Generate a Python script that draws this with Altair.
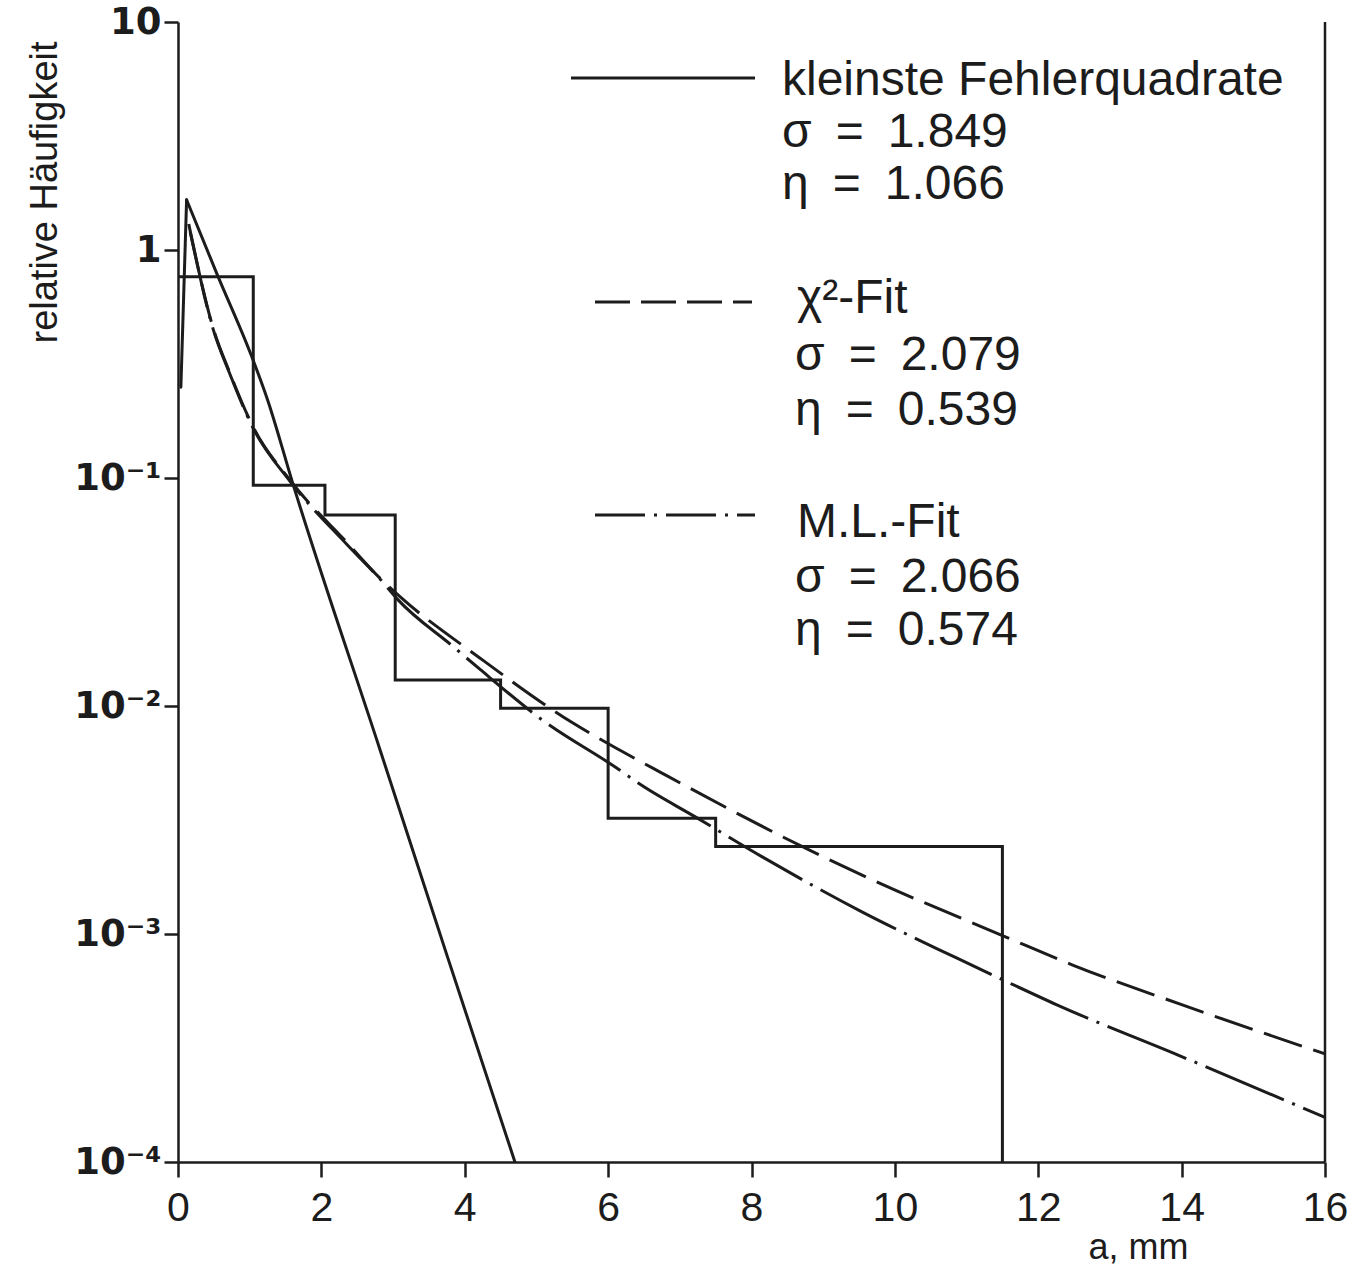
import altair as alt
import pandas as pd

# ---------------- data ----------------
hist_edges = [0.0, 1.05, 2.05, 3.03, 4.5, 6.0, 7.5, 11.5]
hist_values = [0.764, 0.093, 0.0689, 0.0130, 0.00977, 0.00322, 0.00242, 0.0001]

lsq_x = [0.04, 0.12, 0.54, 1.03, 1.25, 1.6, 2.82, 3.75, 4.70]
lsq_y = [0.25, 1.66, 0.79, 0.34, 0.22, 0.095, 0.0064, 0.00081, 0.0001]
lsq_peak_index = 1  # the curve rises steeply up to this point, then falls

chi_x = [0.17, 0.21, 0.49, 0.725, 1.05, 1.56, 2.36, 2.82, 3.10, 4.21, 5.51, 6.16,
         6.75, 8.86, 9.69, 11.55, 12.48, 14.0, 16.0]
chi_y = [1.2, 1.05, 0.455, 0.288, 0.167, 0.098, 0.052, 0.0363, 0.0301, 0.01625, 0.00842,
         0.00641, 0.00508, 0.00229, 0.001726, 0.00097, 0.000731, 0.00049, 0.000298]

ml_x = [0.15, 0.49, 0.725, 1.05, 1.56, 2.36, 2.82, 3.07, 3.84, 4.21, 5.08, 6.16, 6.42,
        7.24, 8.15, 9.54, 10.86, 11.55, 12.26, 14.0, 16.0]
ml_y = [1.3, 0.45, 0.285, 0.165, 0.097, 0.051, 0.036, 0.0292, 0.0182, 0.0145, 0.00869,
        0.00524, 0.00459, 0.00323, 0.00218, 0.00125, 0.000785, 0.00062, 0.000489,
        0.00029, 0.000157]

x_tick_values = [0, 2, 4, 6, 8, 10, 12, 14, 16]
y_tick_values = [1e-4, 1e-3, 1e-2, 1e-1, 1, 10]
y_tick_labels = ["10⁻⁴", "10⁻³", "10⁻²", "10⁻¹", "1", "10"]

legend_lsq = ["kleinste Fehlerquadrate", "σ\u2002=\u20021.849", "η\u2002=\u20021.066"]
legend_chi = ["χ²-Fit", "σ\u2002=\u20022.079", "η\u2002=\u20020.539"]
legend_ml = ["M.L.-Fit", "σ\u2002=\u20022.066", "η\u2002=\u20020.574"]

# ---------------- chart ----------------
W, H = 1147, 1140
INK = "#1c1c1c"
TXT_FONT = "Liberation Sans, Arial, sans-serif"
NARROW = "'Liberation Sans Narrow', 'Liberation Sans', sans-serif"

# label expression for y ticks built from the lists
expr = "'" + y_tick_labels[-1] + "'"
for v, lab in reversed(list(zip(y_tick_values[:-1], y_tick_labels[:-1]))):
    expr = f"datum.value < {v * 3} ? '{lab}' : " + expr

xs = alt.Scale(domain=[0, 16], nice=False, zero=False)
ys = alt.Scale(type="log", domain=[1e-4, 10], nice=False)

x_axis = alt.Axis(values=x_tick_values, format="d", grid=False,
                  labelFont=NARROW, labelFontSize=41, labelColor=INK,
                  labelPadding=11, labelFlush=False, labelOverlap=False,
                  tickSize=15, tickWidth=2.5, tickColor=INK,
                  domainWidth=2.5, domainColor=INK,
                  title="a, mm", titleFont=NARROW, titleFontSize=36,
                  titleFontWeight="normal", titleColor=INK,
                  titleX=960, titleY=96, titleAlign="center",
                  titleBaseline="alphabetic")

y_axis = alt.Axis(values=y_tick_values, labelExpr=expr, grid=False,
                  labelFont="DejaVu Sans", labelFontWeight="bold",
                  labelFontSize=37, labelColor=INK, labelPadding=3,
                  labelBaseline="middle", labelFlush=False, labelOverlap=False,
                  tickSize=14, tickWidth=2.5, tickColor=INK,
                  domainWidth=2.5, domainColor=INK,
                  title="relative Häufigkeit", titleFont=TXT_FONT,
                  titleFontSize=38, titleFontWeight="normal", titleColor=INK,
                  titleX=-133, titleY=170, titleAngle=270,
                  titleAlign="center", titleBaseline="middle")

hist_df = pd.DataFrame({"x": hist_edges, "y": hist_values})
lsq_rise_df = pd.DataFrame({"x": lsq_x[:lsq_peak_index + 1],
                            "y": lsq_y[:lsq_peak_index + 1]})
lsq_fall_df = pd.DataFrame({"x": lsq_x[lsq_peak_index:],
                            "y": lsq_y[lsq_peak_index:]})
chi_df = pd.DataFrame({"x": chi_x, "y": chi_y})
ml_df = pd.DataFrame({"x": ml_x, "y": ml_y})

hist = alt.Chart(hist_df).mark_line(
    interpolate="step-after", color=INK, strokeWidth=3, clip=True
).encode(x=alt.X("x:Q", scale=xs, axis=x_axis),
         y=alt.Y("y:Q", scale=ys, axis=y_axis))

lsq_rise = alt.Chart(lsq_rise_df).mark_line(
    interpolate="linear", color=INK, strokeWidth=3, clip=True,
    strokeCap="round"
).encode(x=alt.X("x:Q", scale=xs), y=alt.Y("y:Q", scale=ys))

lsq_fall = alt.Chart(lsq_fall_df).mark_line(
    interpolate="monotone", color=INK, strokeWidth=3, clip=True,
    strokeCap="round"
).encode(x=alt.X("x:Q", scale=xs), y=alt.Y("y:Q", scale=ys))

chi = alt.Chart(chi_df).mark_line(
    interpolate="monotone", color=INK, strokeWidth=3, clip=True,
    strokeDash=[40, 12]
).encode(x=alt.X("x:Q", scale=xs), y=alt.Y("y:Q", scale=ys))

ml = alt.Chart(ml_df).mark_line(
    interpolate="monotone", color=INK, strokeWidth=3, clip=True,
    strokeDash=[85, 9, 3, 9]
).encode(x=alt.X("x:Q", scale=xs), y=alt.Y("y:Q", scale=ys))

right_border = alt.Chart().mark_rule(color=INK, strokeWidth=2.5).encode(
    x=alt.value(W), y=alt.value(0), y2=alt.value(H))

leg_solid = alt.Chart().mark_rule(color=INK, strokeWidth=3).encode(
    x=alt.value(393), x2=alt.value(577), y=alt.value(56))
leg_dash = alt.Chart().mark_rule(color=INK, strokeWidth=3, strokeDash=[35, 11]).encode(
    x=alt.value(417), x2=alt.value(574), y=alt.value(280))
leg_dashdot = alt.Chart().mark_rule(color=INK, strokeWidth=3,
                                    strokeDash=[50, 9, 3, 9]).encode(
    x=alt.value(417), x2=alt.value(577), y=alt.value(493))


def text_rows(lines, xs_px, ys_px):
    out = []
    for line, xp, yp in zip(lines, xs_px, ys_px):
        out.append(alt.Chart().mark_text(
            align="left", baseline="alphabetic", font=TXT_FONT,
            fontSize=48, color=INK
        ).encode(x=alt.value(xp), y=alt.value(yp), text=alt.value(line)))
    return out


texts = (text_rows(legend_lsq, [604, 604, 604], [73, 125, 177])
         + text_rows(legend_chi, [619, 617, 617], [291, 348, 403])
         + text_rows(legend_ml, [619, 617, 617], [515, 570, 623]))

chart = alt.layer(
    hist, lsq_rise, lsq_fall, chi, ml, right_border,
    leg_solid, leg_dash, leg_dashdot, *texts
).properties(
    width=W, height=H,
    autosize=alt.AutoSizeParams(type="none"),
    padding={"left": 178, "top": 22, "right": 35, "bottom": 105},
    background="white",
).configure_view(stroke=None)

chart.save("out.html", embed_options={"renderer": "svg", "actions": False})
